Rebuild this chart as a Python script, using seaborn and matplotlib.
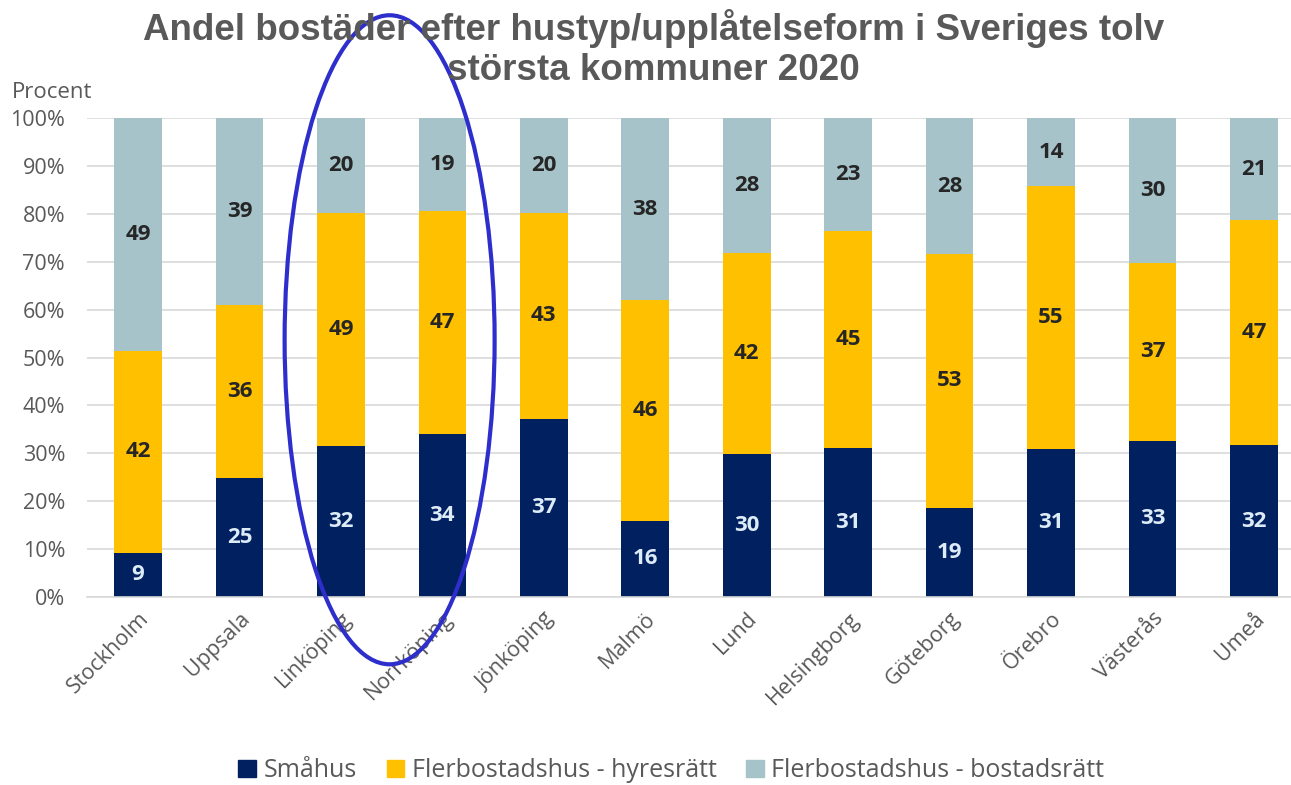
"""Andel bostäder efter hustyp/upplåtelseform - stacked bars"""
import numpy as np
import pandas as pd
import matplotlib
matplotlib.use('Agg')
import matplotlib.pyplot as plt
from matplotlib.patches import Ellipse
import seaborn as sns

# Data (percent)
kommuner = ['Stockholm', 'Uppsala', 'Linköping', 'Norrköping', 'Jönköping', 'Malmö',
            'Lund', 'Helsingborg', 'Göteborg', 'Örebro', 'Västerås', 'Umeå']
smahus = [9.2, 24.8, 31.5, 34.0, 37.2, 15.9, 29.9, 31.1, 18.6, 30.9, 32.6, 31.7]
hyresratt = [42.2, 36.1, 48.7, 46.6, 43.0, 46.1, 41.9, 45.4, 53.0, 54.9, 37.1, 47.0]
bostadsratt = [48.6, 39.0, 19.8, 19.4, 19.8, 38.0, 28.2, 23.4, 28.4, 14.2, 30.3, 21.3]
serier = ['Småhus', 'Flerbostadshus - hyresrätt', 'Flerbostadshus - bostadsrätt']

NAVY = '#002060'
YELLOW = '#FFC000'
GREYBLUE = '#A6C3CA'
TXT = '#595959'

df = pd.DataFrame({'Kommun': kommuner, 'Småhus': smahus,
                   'Hyresrätt': hyresratt, 'Bostadsrätt': bostadsratt})
df['lvl1'] = df['Småhus']
df['lvl2'] = df['Småhus'] + df['Hyresrätt']
df['lvl3'] = df['lvl2'] + df['Bostadsrätt']

sns.set_style('white')
plt.rcParams['font.family'] = ['Open Sans', 'DejaVu Sans']

fig = plt.figure(figsize=(12.91, 7.85), dpi=100)
ax = fig.add_axes([87.3 / 1291, 188 / 785, 1217.4 / 1291, 479 / 785])

# stacked bars: draw cumulative totals from the top down
for col, colr in [('lvl3', GREYBLUE), ('lvl2', YELLOW), ('lvl1', NAVY)]:
    sns.barplot(data=df, x='Kommun', y=col, color=colr, saturation=1,
                width=0.47, linewidth=0, ax=ax, zorder=2)

# segment labels
LBL = 16
for i, row in df.iterrows():
    ax.text(i, row['Småhus'] / 2, f"{row['Småhus']:.0f}", ha='center', va='center',
            fontsize=LBL, fontweight='bold', color='#DDEBF7', zorder=3)
    ax.text(i, row['lvl1'] + row['Hyresrätt'] / 2, f"{row['Hyresrätt']:.0f}",
            ha='center', va='center', fontsize=LBL, fontweight='bold',
            color='#262626', zorder=3)
    ax.text(i, row['lvl2'] + row['Bostadsrätt'] / 2, f"{row['Bostadsrätt']:.0f}",
            ha='center', va='center', fontsize=LBL, fontweight='bold',
            color='#262626', zorder=3)

ax.set_xlim(-0.5, len(kommuner) - 0.5)
ax.set_ylim(0, 100)
ax.set_yticks(np.arange(0, 101, 10))
ax.set_yticklabels([f'{v}%' for v in range(0, 101, 10)])
ax.yaxis.grid(True, color='#D9D9D9', linewidth=1.2, zorder=0)
ax.set_axisbelow(True)
ax.set_xlabel('')
ax.set_ylabel('')
for s in ['left', 'right', 'top']:
    ax.spines[s].set_visible(False)
ax.spines['bottom'].set_color('#D9D9D9')
ax.spines['bottom'].set_linewidth(1.2)
ax.tick_params(axis='y', length=0, labelsize=15.5, labelcolor=TXT, pad=16)
ax.tick_params(axis='x', which='major', length=0, labelsize=15.5, labelcolor=TXT, pad=8)
ax.set_xticks(np.arange(-0.5, len(kommuner), 1), minor=True)
ax.tick_params(axis='x', which='minor', length=7, color='#D9D9D9', width=1.2)
plt.setp(ax.get_xticklabels(), rotation=45, ha='right', rotation_mode='anchor')

fig.text(12 / 1291, 1 - 93 / 785, 'Procent', fontsize=16, color=TXT, va='center')

fig.suptitle('Andel bostäder efter hustyp/upplåtelseform i Sveriges tolv\nstörsta kommuner 2020',
             x=0.506, y=1 - 9 / 785, va='top', fontsize=26.5, fontweight='bold',
             color=TXT, family=['Liberation Sans', 'DejaVu Sans'], linespacing=1.2)

# highlight ring around Linköping and Norrköping
ax.add_patch(Ellipse((2.48, 53.7), 2.07, 135.5, fill=False,
                     edgecolor='#2E2ECC', linewidth=3, clip_on=False, zorder=5))

handles = [plt.Rectangle((0, 0), 1, 1, color=c) for c in [NAVY, YELLOW, GREYBLUE]]
fig.legend(handles, serier, loc='center', bbox_to_anchor=(0.52, 0.018), ncol=3,
           frameon=False, fontsize=18, handlelength=0.7, handleheight=0.7,
           handletextpad=0.3, columnspacing=1.2, labelcolor=TXT)

plt.savefig('out.png', dpi=100)
